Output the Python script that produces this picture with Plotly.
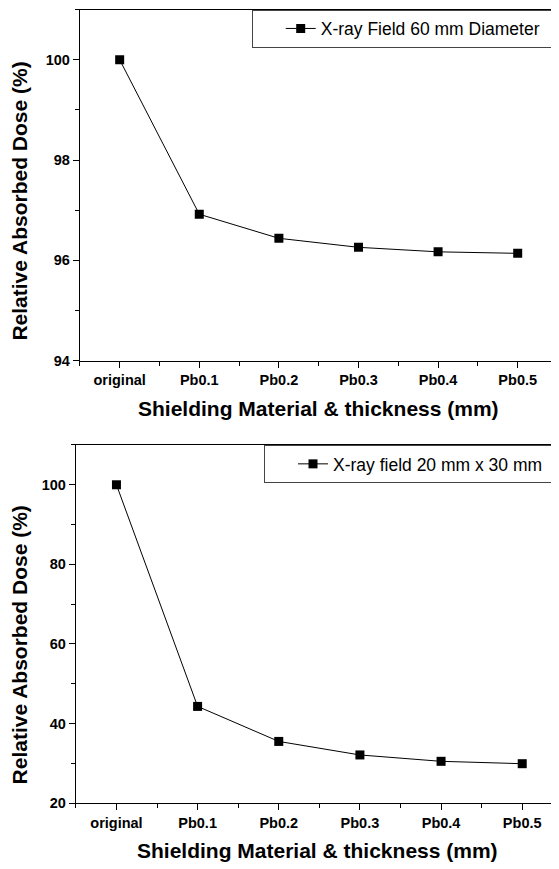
import plotly.graph_objects as go

categories = ["original", "Pb0.1", "Pb0.2", "Pb0.3", "Pb0.4", "Pb0.5"]
dose_60mm = [100.0, 96.92, 96.44, 96.26, 96.17, 96.14]
dose_20x30 = [100.0, 44.3, 35.5, 32.1, 30.5, 29.9]
label_60 = "X-ray Field 60 mm Diameter"
label_20 = "X-ray field 20 mm x 30 mm"
y1_ticks = [94, 96, 98, 100]
y2_ticks = [20, 40, 60, 80, 100]
x_title = "Shielding Material & thickness (mm)"
y_title = "Relative Absorbed Dose (%)"

OFF = 8  # page body margin
SY = 0.992  # observed vertical scale of the capture
W, H = 559 - OFF, 869 - OFF
FONT = "Liberation Sans, Arial, sans-serif"
xpos = list(range(len(categories)))
PAD = "\u00a0\u00a0"


def px(x):
    return min(1.0, max(0.0, (x - OFF) / W))


def py(y):
    return min(1.0, max(0.0, 1 - (y / SY - OFF) / H))


fig = go.Figure()
fig.add_trace(go.Scatter(
    x=xpos, y=dose_60mm, mode="lines+markers", name=label_60 + PAD,
    line=dict(color="black", width=1),
    marker=dict(symbol="square", size=9, color="black"),
    xaxis="x", yaxis="y", legend="legend"))
fig.add_trace(go.Scatter(
    x=xpos, y=dose_20x30, mode="lines+markers", name=label_20 + PAD,
    line=dict(color="black", width=1),
    marker=dict(symbol="square", size=9, color="black"),
    xaxis="x2", yaxis="y2", legend="legend2"))

tickfont = dict(family=FONT, size=14.5, color="black", weight="bold")

xcommon = dict(
    tickmode="array", tickvals=xpos, ticktext=categories,
    ticks="outside", ticklen=6, tickwidth=1.2, tickcolor="black",
    showline=True, linecolor="black", linewidth=1.2, mirror=True,
    showgrid=False, zeroline=False, tickfont=tickfont,
    minor=dict(tick0=-0.5, dtick=1, ticks="outside", ticklen=4,
               tickwidth=1.2, tickcolor="black", showgrid=False),
)
ycommon = dict(
    tickmode="array", ticks="outside", ticklen=6, tickwidth=1.2,
    tickcolor="black", showline=True, linecolor="black", linewidth=1.2,
    showgrid=False, zeroline=False, tickfont=tickfont,
)

legend_common = dict(
    xanchor="right", yanchor="top", bgcolor="white",
    bordercolor="#444", borderwidth=1,
    font=dict(family=FONT, size=17.5, color="black"),
    itemwidth=30, indentation=28,
)

fig.update_layout(
    width=W, height=H, margin=dict(l=0, r=0, t=0, b=0),
    paper_bgcolor="white", plot_bgcolor="white",
    font=dict(family=FONT, color="black"),
    xaxis=dict(domain=[px(80), px(558.5)], range=[-0.5, 5.5],
               anchor="y", **xcommon),
    yaxis=dict(domain=[py(360.5), py(8.5)], range=[94, 101],
               tickvals=y1_ticks, mirror=True, anchor="x",
               minor=dict(dtick=1, tick0=94, ticks="outside", ticklen=4,
                          tickwidth=1.2, tickcolor="black", showgrid=False),
               **ycommon),
    xaxis2=dict(domain=[px(76), 1.0], range=[-0.5, -0.5 + (559 - 76) / 81.3],
                anchor="y2", **xcommon),
    yaxis2=dict(domain=[py(804), py(445)], range=[20, 110],
                tickvals=y2_ticks, mirror=False, anchor="x2",
                minor=dict(dtick=10, tick0=20, ticks="outside", ticklen=4,
                           tickwidth=1.2, tickcolor="black", showgrid=False),
                **ycommon),
    legend=dict(x=px(556.7), y=py(8.5), **legend_common),
    legend2=dict(x=1.0, y=py(445), **legend_common),
    showlegend=True,
)

title_font = dict(family=FONT, size=21, color="black", weight="bold")
fig.add_annotation(text=y_title, textangle=-90, x=px(20), y=py(200),
                   xref="paper", yref="paper", showarrow=False,
                   font=title_font, xanchor="center", yanchor="middle")
fig.add_annotation(text=y_title, textangle=-90, x=px(20), y=py(645),
                   xref="paper", yref="paper", showarrow=False,
                   font=title_font, xanchor="center", yanchor="middle")
fig.add_annotation(text=x_title, x=px(319), y=py(408),
                   xref="paper", yref="paper", showarrow=False,
                   font=title_font, xanchor="center", yanchor="middle")
fig.add_annotation(text=x_title, x=px(318), y=py(852),
                   xref="paper", yref="paper", showarrow=False,
                   font=title_font, xanchor="center", yanchor="middle")

fig.write_html("out.html")
